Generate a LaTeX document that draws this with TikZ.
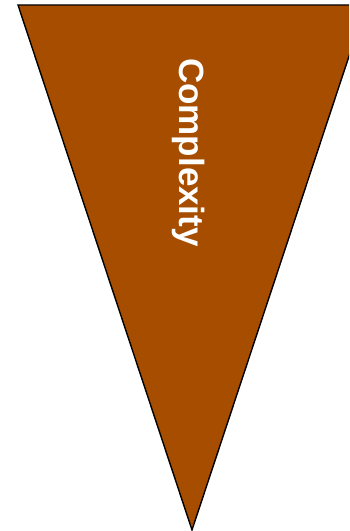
\documentclass[tikz,border=0pt]{standalone}
\usepackage{fontspec}
\setmainfont{Liberation Sans}
\definecolor{funnel}{RGB}{166,77,0}
\begin{document}
\begin{tikzpicture}[x=1pt,y=1pt,
  lbl/.style={text=white,font=\bfseries\fontsize{35}{40}\selectfont,rotate=-90,inner sep=0pt}]
\useasboundingbox (0,0) rectangle (349,531);
\clip (0,0) rectangle (349,531);
\draw[fill=funnel,line width=1.4pt,line join=miter] (18,526) -- (366,526) -- (192,1) -- cycle;
\node[lbl] (c) at (188.5,378.5) {Complexity};
\end{tikzpicture}
\end{document}
